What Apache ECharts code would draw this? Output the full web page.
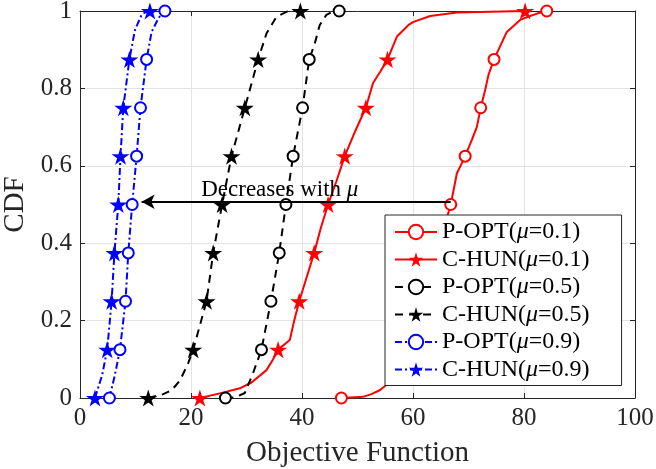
<!DOCTYPE html>
<html>
<head>
<meta charset="UTF-8">
<title>CDF of objective function</title>
<script src="https://cdn.jsdelivr.net/npm/echarts@6/dist/echarts.min.js"></script>
<style>
    html, body { margin: 0; padding: 0; background: #fff; }
    #main { width: 656px; height: 469px; }
</style>
</head>
<body>
<div id="main"></div>
<script>
    // CDF levels where the markers sit
    var levels = [0, 0.125, 0.25, 0.375, 0.5, 0.625, 0.75, 0.875, 1];

    var xTicks = [0, 20, 40, 60, 80, 100];
    var yTicks = [0, 0.2, 0.4, 0.6, 0.8, 1];

    // x value of each marker (one per level), and extra points along the curve
    var poptMu01 = [47.1, 59.0, 62.0, 64.5, 66.8, 69.4, 72.2, 74.6, 84.1];
    var poptMu01Curve = [[51, 0.003], [52.5, 0.01], [54, 0.02], [55.3, 0.035], [56.5, 0.07],
        [63.3, 0.31], [65.6, 0.44], [67.9, 0.58], [68.8, 0.607], [70.6, 0.667], [71.5, 0.70],
        [73.0, 0.796], [73.6, 0.835], [76.9, 0.946], [79.3, 0.977], [81.1, 0.987], [82.5, 0.994]];

    var chunMu01 = [21.6, 35.7, 39.5, 42.2, 44.7, 47.7, 51.5, 55.4, 80.2];
    var chunMu01Curve = [[25.2, 0.012], [28.8, 0.025], [30.9, 0.04], [33.6, 0.072], [34.8, 0.1],
        [37.8, 0.15], [38.6, 0.2], [40.8, 0.31], [43.4, 0.44], [46.2, 0.56], [49.6, 0.69],
        [52.8, 0.814], [54.1, 0.843], [57.1, 0.934], [59.2, 0.964], [60.1, 0.972],
        [63.1, 0.987], [67.9, 0.996]];

    var poptMu05 = [26.2, 32.7, 34.4, 35.9, 37.1, 38.4, 40.1, 41.3, 46.7];
    var poptMu05Curve = [[28, 0.002], [29.7, 0.013], [31.2, 0.065],
        [42.3, 0.916], [43.2, 0.964], [44.4, 0.99], [45.5, 0.998]];

    var chunMu05 = [12.3, 20.4, 22.8, 24.0, 25.6, 27.3, 29.7, 32.1, 39.7];
    var chunMu05Curve = [[15, 0.01], [16.5, 0.02], [18, 0.045], [19.5, 0.09],
        [33.6, 0.942], [35.4, 0.985], [37.2, 0.998], [38.2, 1]];

    var poptMu09 = [5.3, 7.2, 8.2, 8.7, 9.4, 10.2, 10.9, 12.0, 15.3];
    var poptMu09Curve = [[6.3, 0.06], [12.9, 0.946], [14.1, 0.98], [14.8, 0.996]];

    var chunMu09 = [2.7, 4.9, 5.7, 6.2, 6.9, 7.3, 7.8, 8.9, 12.6];
    var chunMu09Curve = [[4.0, 0.06], [9.9, 0.951], [11.1, 0.99], [11.9, 0.998]];

    // annotation: arrow from -> to, and where the text sits
    var arrowFrom = [66.8, 0.507];
    var arrowTo = [11.1, 0.507];
    var noteAt = [36.0, 0.537];
    var noteText = 'Decreases with {i|μ}';

    var serif = 'Liberation Serif';
    var starPath = 'path://M50,0 L61,35 L98,35 L68,57 L79,91 L50,70 L21,91 L32,57 L2,35 L39,35 Z';

    function buildCurve(markX, extra) {
        var pts = markX.map(function (x, i) {
            return { value: [x, levels[i]] };
        });
        extra.forEach(function (p) {
            pts.push({ value: p, symbol: 'none' });
        });
        pts.sort(function (a, b) {
            return a.value[0] - b.value[0] || a.value[1] - b.value[1];
        });
        return pts;
    }

    function makeSeries(name, markX, extra, color, dash, isStar) {
        return {
            name: name,
            type: 'line',
            data: buildCurve(markX, extra),
            showAllSymbol: true,
            symbol: isStar ? starPath : 'emptyCircle',
            symbolSize: isStar ? 18 : 11,
            symbolKeepAspect: true,
            lineStyle: { color: color, width: 2, type: dash },
            itemStyle: isStar ? { color: color } : { color: color, borderWidth: 2 },
            emphasis: { disabled: true },
            z: 3
        };
    }

    var series = [
        makeSeries('P-OPT(μ=0.1)', poptMu01, poptMu01Curve, '#ff0000', 'solid', false),
        makeSeries('C-HUN(μ=0.1)', chunMu01, chunMu01Curve, '#ff0000', 'solid', true),
        makeSeries('P-OPT(μ=0.5)', poptMu05, poptMu05Curve, '#000000', [8, 6], false),
        makeSeries('C-HUN(μ=0.5)', chunMu05, chunMu05Curve, '#000000', [8, 6], true),
        makeSeries('P-OPT(μ=0.9)', poptMu09, poptMu09Curve, '#0000ff', [7, 3, 2, 3], false),
        makeSeries('C-HUN(μ=0.9)', chunMu09, chunMu09Curve, '#0000ff', [7, 3, 2, 3], true)
    ];

    // arrow + text annotation
    series.push({
        type: 'line',
        data: [],
        silent: true,
        markLine: {
            silent: true,
            symbol: ['none', 'arrow'],
            symbolSize: [11, 13],
            lineStyle: { color: '#000', width: 2, type: 'solid' },
            label: { show: false },
            data: [[{ coord: arrowFrom }, { coord: arrowTo }]]
        },
        markPoint: {
            silent: true,
            symbol: 'circle',
            symbolSize: 0,
            label: {
                show: true,
                position: 'inside',
                formatter: noteText,
                color: '#000',
                fontFamily: serif,
                fontSize: 23,
                rich: { i: { fontStyle: 'italic', fontFamily: serif, fontSize: 23, color: '#000' } }
            },
            data: [{ coord: noteAt }]
        },
        z: 5
    });

    var axisColor = '#262626';
    var gridColor = '#e3e3e3';

    var option = {
        animation: false,
        backgroundColor: '#fff',
        grid: { left: 80, right: 21, top: 11, bottom: 71, containLabel: false, outerBoundsMode: 'none' },
        legend: {
            orient: 'vertical',
            left: 385,
            top: 215,
            padding: [4, 32, 3, 9],
            itemGap: 1.5,
            itemWidth: 42,
            itemHeight: 18,
            backgroundColor: '#fff',
            borderColor: axisColor,
            borderWidth: 1,
            borderRadius: 0,
            data: series.slice(0, 6).map(function (s) { return s.name; }),
            formatter: function (name) { return name.replace('μ', '{i|μ}'); },
            textStyle: {
                fontFamily: serif,
                fontSize: 24,
                lineHeight: 26,
                color: '#000',
                rich: { i: { fontStyle: 'italic', fontFamily: serif, fontSize: 24, color: '#000' } }
            },
            z: 10
        },
        xAxis: [{
            type: 'value',
            min: xTicks[0],
            max: xTicks[xTicks.length - 1],
            interval: xTicks[1] - xTicks[0],
            name: 'Objective Function',
            nameLocation: 'middle',
            nameGap: 41,
            nameTextStyle: { fontFamily: serif, fontSize: 29, color: axisColor },
            axisLine: { show: true, lineStyle: { color: axisColor, width: 1 } },
            axisTick: { show: true, inside: true, length: 5, lineStyle: { color: axisColor } },
            axisLabel: { fontFamily: serif, fontSize: 25, color: axisColor, margin: 8 },
            splitLine: { show: true, lineStyle: { color: gridColor, width: 1 } }
        }, {
            type: 'value',
            position: 'top',
            min: xTicks[0],
            max: xTicks[xTicks.length - 1],
            interval: xTicks[1] - xTicks[0],
            axisLine: { show: true, onZero: false, lineStyle: { color: axisColor, width: 1 } },
            axisTick: { show: true, inside: true, length: 5, lineStyle: { color: axisColor } },
            axisLabel: { show: false },
            splitLine: { show: false }
        }],
        yAxis: [{
            type: 'value',
            min: yTicks[0],
            max: yTicks[yTicks.length - 1],
            interval: yTicks[1] - yTicks[0],
            name: 'CDF',
            nameLocation: 'middle',
            nameGap: 48,
            nameTextStyle: { fontFamily: serif, fontSize: 29, color: axisColor },
            axisLine: { show: true, lineStyle: { color: axisColor, width: 1 } },
            axisTick: { show: true, inside: true, length: 5, lineStyle: { color: axisColor } },
            axisLabel: { fontFamily: serif, fontSize: 25, color: axisColor, margin: 8 },
            splitLine: { show: true, lineStyle: { color: gridColor, width: 1 } }
        }, {
            type: 'value',
            position: 'right',
            min: yTicks[0],
            max: yTicks[yTicks.length - 1],
            interval: yTicks[1] - yTicks[0],
            axisLine: { show: true, onZero: false, lineStyle: { color: axisColor, width: 1 } },
            axisTick: { show: true, inside: true, length: 5, lineStyle: { color: axisColor } },
            axisLabel: { show: false },
            splitLine: { show: false }
        }],
        series: series
    };

    var myChart = echarts.init(document.getElementById('main'));
    myChart.setOption(option);
</script>
</body>
</html>
